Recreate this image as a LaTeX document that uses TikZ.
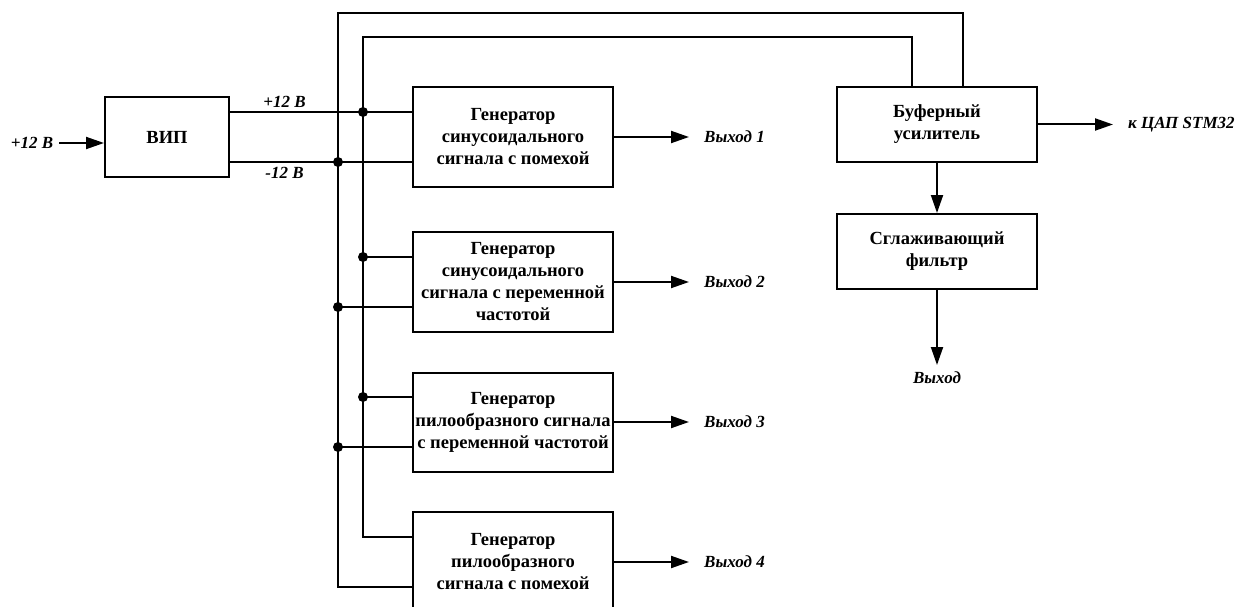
\documentclass[tikz,border=0pt]{standalone}
\usepackage{fontspec}
\setmainfont{Liberation Serif}
\usepackage{tikz}
\usetikzlibrary{positioning, arrows.meta, calc}

\newcommand\boxfont{\fontsize{18.5}{22}\selectfont\bfseries}
\newcommand\lblfont{\fontsize{17}{20}\selectfont\bfseries\itshape}

\begin{document}
\begin{tikzpicture}[x=1pt, y=-1pt,
  every node/.style={font=\boxfont, align=center},
  block/.style={draw, line width=2pt, minimum width=200pt, minimum height=100pt, inner sep=1pt},
  wire/.style={line width=2pt},
  arrow/.style={wire, -{Triangle[length=18pt, width=12pt]}},
  lbl/.style={font=\lblfont, inner sep=1pt},
  junction/.style={circle, fill, inner sep=0pt, minimum size=10pt}
]
  \useasboundingbox (0,0) rectangle (1239,607);

  % power supply
  \node (vip) [draw, line width=2pt, minimum width=124pt, minimum height=80pt] at (167,137) {ВИП};
  \node (vin) [lbl] at (32,143) {+12 В};
  \draw[arrow, shorten <=5pt] (vin.east) -- (vin.east -| vip.west);

  % generators
  \node (gen1) [block, minimum height=99pt] at (513,137) {Генератор\\синусоидального\\сигнала с помехой};
  \node (gen2) [block] at (513,282) {Генератор\\синусоидального\\сигнала с переменной\\частотой};
  \node (gen3) [block, minimum height=99pt] at (513,422) {Генератор\\пилообразного сигнала\\с переменной частотой};
  \node (gen4) [block] at (513,562) {Генератор\\пилообразного\\сигнала с помехой};

  % buffer and filter
  \node (buf) [block, minimum height=75pt] at (937,124.5) {Буферный\\усилитель};
  \node (filt) [block, minimum height=75pt, below=50pt of buf] {Сглаживающий\\фильтр};

  % supply rails
  \coordinate (pbus) at (363,37);
  \coordinate (nbus) at (338,13);
  \foreach \g in {gen1, gen2, gen3, gen4} {
    \coordinate (\g p) at ($(\g.west)+(0,-25)$);
    \coordinate (\g n) at ($(\g.west)+(0,25)$);
  }
  \draw[wire] (gen1p -| vip.east) -- node[lbl, above=2pt, pos=0.3] {+12 В} (gen1p);
  \draw[wire] (gen1n -| vip.east) -- node[lbl, below=3pt, pos=0.3] {-12 В} (gen1n);
  \foreach \g in {gen2, gen3} {
    \draw[wire] (\g p -| pbus) -- (\g p);
    \draw[wire] (\g n -| nbus) -- (\g n);
  }
  \foreach \g in {gen1, gen2, gen3} {
    \node[junction] at (\g p -| pbus) {};
    \node[junction] at (\g n -| nbus) {};
  }
  \draw[wire] ($(buf.north)+(-25,0)$) |- (pbus) |- (gen4p);
  \draw[wire] ($(buf.north)+(26,0)$) |- (nbus) |- (gen4n);

  % outputs
  \foreach \i in {1,...,4} {
    \coordinate (out\i) at ($(gen\i.east)+(75,0)$);
    \draw[arrow] (gen\i.east) -- (out\i);
    \node[lbl, right=14pt of out\i] (lout\i) {Выход \i};
  }
  \coordinate (dac) at ($(buf.east)+(75,0)$);
  \draw[arrow] (buf.east) -- (dac);
  \node[lbl, right=14pt of dac] (ldac) {к ЦАП STM32};
  \draw[arrow] (buf) -- (filt);
  \coordinate (fout) at ($(filt.south)+(0,75)$);
  \draw[arrow] (filt.south) -- (fout);
  \node[lbl, below=6pt of fout] (lfout) {Выход};
\end{tikzpicture}
\end{document}
